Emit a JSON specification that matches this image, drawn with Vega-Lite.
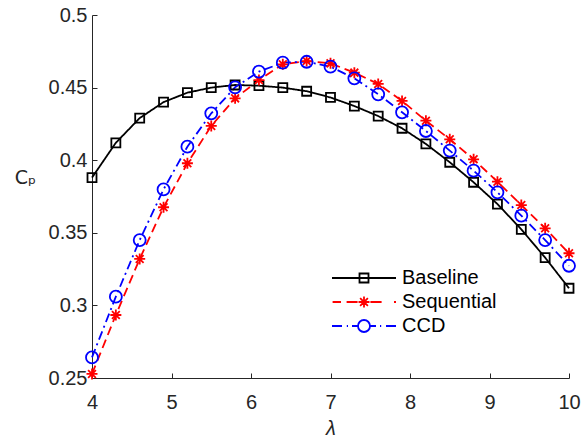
{
  "$schema": "https://vega.github.io/schema/vega-lite/v6.json",
  "autosize": "none",
  "width": 477,
  "height": 363,
  "padding": {"left": 92, "top": 15, "right": 18, "bottom": 63},
  "background": "white",
  "config": {
    "view": {"stroke": null},
    "font": "Liberation Sans",
    "axis": {
      "domainColor": "#262626",
      "tickColor": "#262626",
      "labelColor": "#262626",
      "titleColor": "#262626",
      "labelFont": "Liberation Sans",
      "titleFont": "Liberation Sans",
      "labelFontSize": 20,
      "titleFontSize": 20,
      "titleFontWeight": "normal",
      "grid": false,
      "tickSize": -5,
      "domainWidth": 1,
      "tickWidth": 1
    }
  },
  "data": {
    "values": [
      {"x": 4.0, "y": 0.388, "s": "Baseline"},
      {"x": 4.3, "y": 0.412, "s": "Baseline"},
      {"x": 4.6, "y": 0.429, "s": "Baseline"},
      {"x": 4.9, "y": 0.440, "s": "Baseline"},
      {"x": 5.2, "y": 0.4465, "s": "Baseline"},
      {"x": 5.5, "y": 0.450, "s": "Baseline"},
      {"x": 5.8, "y": 0.4518, "s": "Baseline"},
      {"x": 6.1, "y": 0.4513, "s": "Baseline"},
      {"x": 6.4, "y": 0.450, "s": "Baseline"},
      {"x": 6.7, "y": 0.4475, "s": "Baseline"},
      {"x": 7.0, "y": 0.4432, "s": "Baseline"},
      {"x": 7.3, "y": 0.4373, "s": "Baseline"},
      {"x": 7.6, "y": 0.4304, "s": "Baseline"},
      {"x": 7.9, "y": 0.422, "s": "Baseline"},
      {"x": 8.2, "y": 0.4112, "s": "Baseline"},
      {"x": 8.5, "y": 0.3986, "s": "Baseline"},
      {"x": 8.8, "y": 0.3848, "s": "Baseline"},
      {"x": 9.1, "y": 0.3698, "s": "Baseline"},
      {"x": 9.4, "y": 0.3524, "s": "Baseline"},
      {"x": 9.7, "y": 0.3329, "s": "Baseline"},
      {"x": 10.0, "y": 0.3118, "s": "Baseline"},
      {"x": 4.0, "y": 0.2528, "s": "Sequential"},
      {"x": 4.3, "y": 0.2934, "s": "Sequential"},
      {"x": 4.6, "y": 0.332, "s": "Sequential"},
      {"x": 4.9, "y": 0.3676, "s": "Sequential"},
      {"x": 5.2, "y": 0.3979, "s": "Sequential"},
      {"x": 5.5, "y": 0.4236, "s": "Sequential"},
      {"x": 5.8, "y": 0.4426, "s": "Sequential"},
      {"x": 6.1, "y": 0.4552, "s": "Sequential"},
      {"x": 6.4, "y": 0.466, "s": "Sequential"},
      {"x": 6.7, "y": 0.4683, "s": "Sequential"},
      {"x": 7.0, "y": 0.4667, "s": "Sequential"},
      {"x": 7.3, "y": 0.4603, "s": "Sequential"},
      {"x": 7.6, "y": 0.4525, "s": "Sequential"},
      {"x": 7.9, "y": 0.4408, "s": "Sequential"},
      {"x": 8.2, "y": 0.4272, "s": "Sequential"},
      {"x": 8.5, "y": 0.4144, "s": "Sequential"},
      {"x": 8.8, "y": 0.4006, "s": "Sequential"},
      {"x": 9.1, "y": 0.3852, "s": "Sequential"},
      {"x": 9.4, "y": 0.3691, "s": "Sequential"},
      {"x": 9.7, "y": 0.3531, "s": "Sequential"},
      {"x": 10.0, "y": 0.3359, "s": "Sequential"},
      {"x": 4.0, "y": 0.2642, "s": "CCD"},
      {"x": 4.3, "y": 0.306, "s": "CCD"},
      {"x": 4.6, "y": 0.345, "s": "CCD"},
      {"x": 4.9, "y": 0.3799, "s": "CCD"},
      {"x": 5.2, "y": 0.4093, "s": "CCD"},
      {"x": 5.5, "y": 0.4323, "s": "CCD"},
      {"x": 5.8, "y": 0.4502, "s": "CCD"},
      {"x": 6.1, "y": 0.461, "s": "CCD"},
      {"x": 6.4, "y": 0.4672, "s": "CCD"},
      {"x": 6.7, "y": 0.4678, "s": "CCD"},
      {"x": 7.0, "y": 0.4644, "s": "CCD"},
      {"x": 7.3, "y": 0.4564, "s": "CCD"},
      {"x": 7.6, "y": 0.4454, "s": "CCD"},
      {"x": 7.9, "y": 0.433, "s": "CCD"},
      {"x": 8.2, "y": 0.4201, "s": "CCD"},
      {"x": 8.5, "y": 0.4066, "s": "CCD"},
      {"x": 8.8, "y": 0.3928, "s": "CCD"},
      {"x": 9.1, "y": 0.3779, "s": "CCD"},
      {"x": 9.4, "y": 0.3618, "s": "CCD"},
      {"x": 9.7, "y": 0.345, "s": "CCD"},
      {"x": 10.0, "y": 0.3273, "s": "CCD"}
    ]
  },
  "encoding": {
    "x": {
      "field": "x", "type": "quantitative",
      "scale": {"domain": [4, 10], "nice": false, "zero": false},
      "axis": {"title": "λ", "titleFontStyle": "italic", "values": [4,5,6,7,8,9,10], "labelPadding": 19, "titlePadding": 6, "labelFlush": false}
    },
    "y": {
      "field": "y", "type": "quantitative",
      "scale": {"domain": [0.25, 0.5], "nice": false, "zero": false},
      "axis": {"title": "Cₚ", "titleFont": "DejaVu Sans", "titleFontSize": 19, "titleAngle": 0, "titleX": -67, "titleY": 162, "titleAlign": "center", "titleBaseline": "middle", "values": [0.25,0.3,0.35,0.4,0.45,0.5], "format": "~g", "labelPadding": 10, "labelFlush": false}
    }
  },
  "layer": [
    {
      "mark": {"type": "line", "strokeWidth": 1.8},
      "encoding": {
        "color": {"field": "s", "type": "nominal", "scale": {"domain": ["Baseline","Sequential","CCD"], "range": ["#000000","#ff0000","#0000ff"]}, "legend": null},
        "strokeDash": {"field": "s", "type": "nominal", "scale": {"domain": ["Baseline","Sequential","CCD"], "range": [[1,0],[9,5],[9,4,2,4]]}, "legend": null}
      }
    },
    {
      "mark": {"type": "point", "filled": false, "size": 100, "strokeWidth": 1.8, "opacity": 1},
      "encoding": {
        "color": {"field": "s", "type": "nominal", "scale": {"domain": ["Baseline","Sequential","CCD"], "range": ["#000000","#ff0000","#0000ff"]}, "legend": null},
        "shape": {"field": "s", "type": "nominal", "scale": {"domain": ["Baseline","Sequential","CCD"], "range": ["M-0.9,-0.9H0.9V0.9H-0.9Z", "M0,-1.1V1.1M-1.1,0H1.1M-0.78,-0.78L0.78,0.78M-0.78,0.78L0.78,-0.78", "M1.2,0A1.2,1.2,0,1,1,-1.2,0A1.2,1.2,0,1,1,1.2,0Z"]}, "legend": null}
      }
    },
    {
      "transform": [{"filter": "datum.x > 100"}],
      "mark": {"type": "point", "filled": false, "size": 64, "strokeWidth": 1.8, "opacity": 1},
      "encoding": {
        "color": {"field": "s", "type": "nominal", "scale": {"domain": ["Baseline","Sequential","CCD"], "range": ["#000000","#ff0000","#0000ff"]}, "legend": {"title": null, "orient": "none", "legendX": 262, "legendY": 253, "symbolSize": 64, "symbolStrokeWidth": 1.8, "labelFontSize": 20, "labelFont": "Liberation Sans", "labelColor": "#000000", "labelOffset": 28, "rowPadding": 4, "symbolFillColor": "transparent"}},
        "shape": {"field": "s", "type": "nominal", "scale": {"domain": ["Baseline","Sequential","CCD"], "range": ["M-8,0H8M-1.125,-1.125H1.125V1.125H-1.125Z", "M-7.85,0H-5.75M-4.35,0H-1.6M1.6,0H4.4M7.5,0H8M0,-1.375V1.375M-1.375,0H1.375M-0.97,-0.97L0.97,0.97M-0.97,0.97L0.97,-0.97", "M-8,0H-5.5M-4.3,0H-4M-3,0H-1.5M1.5,0H3M4,0H4.3M5.5,0H8M1.5,0A1.5,1.5,0,1,1,-1.5,0A1.5,1.5,0,1,1,1.5,0Z"]}, "legend": {"title": null, "orient": "none", "legendX": 262, "legendY": 253, "symbolSize": 64, "symbolStrokeWidth": 1.8, "labelFontSize": 20, "labelFont": "Liberation Sans", "labelColor": "#000000", "labelOffset": 28, "rowPadding": 4, "symbolFillColor": "transparent"}}
      }
    }
  ],
  "resolve": {"scale": {"shape": "independent", "color": "independent"}}
}
